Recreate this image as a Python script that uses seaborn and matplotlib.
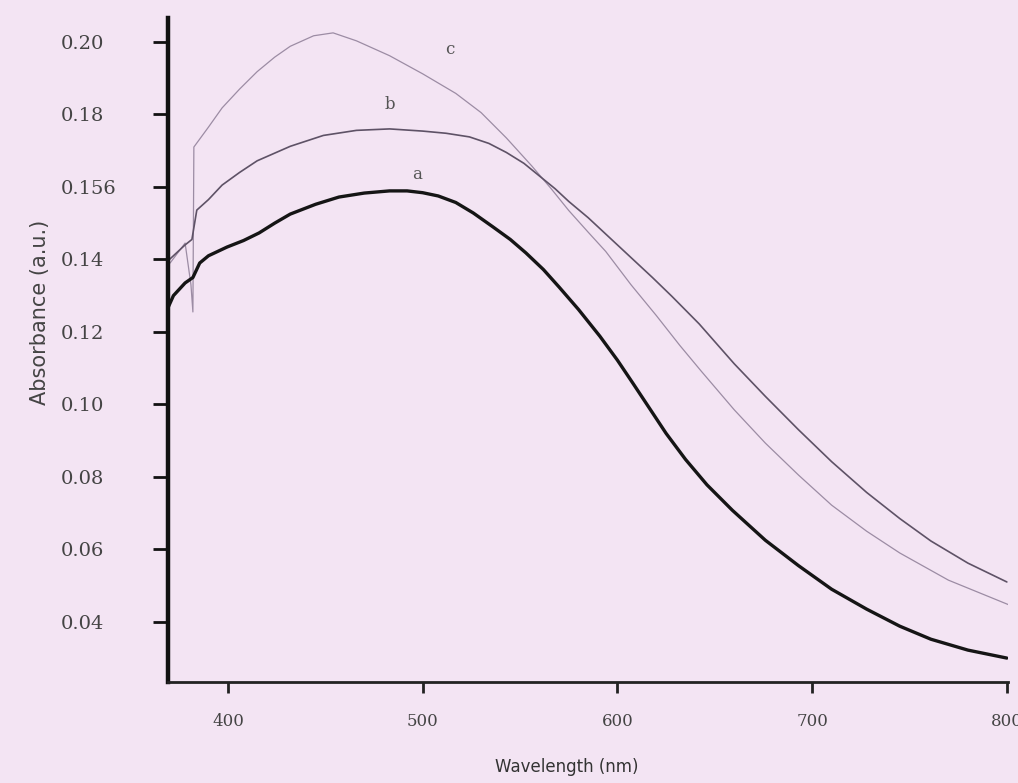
import numpy as np
import pandas as pd
import matplotlib
matplotlib.use("Agg")
import matplotlib.pyplot as plt
import seaborn as sns

# Spectres UV-visible (longueur d'onde en nm, absorbance)
wl_a = [369.5, 372, 378, 382, 385.5, 390, 399.5, 408, 416, 424, 432, 445, 457, 470, 483, 492,
        500, 508, 517, 526, 536, 545, 553, 562, 570, 580, 591, 600, 608, 617, 625, 635, 646,
        659, 676, 693, 710, 728, 745, 761, 780, 800]
abs_a = [0.127, 0.130, 0.1335, 0.135, 0.139, 0.141, 0.1434, 0.1452, 0.1473, 0.150, 0.1525,
         0.1552, 0.1572, 0.1583, 0.1589, 0.1589, 0.1584, 0.1575, 0.1557, 0.1528, 0.149,
         0.1455, 0.1418, 0.1372, 0.1324, 0.1262, 0.1188, 0.1122, 0.1058, 0.0985, 0.092,
         0.0848, 0.0778, 0.0708, 0.0625, 0.0555, 0.049, 0.0435, 0.0388, 0.0352, 0.0322, 0.030]

wl_b = [370, 378, 381.5, 384, 390, 397, 406, 415, 432, 449, 466, 483, 500, 512, 524, 534,
        543, 552, 560, 568, 575, 585, 594, 608, 618, 628, 642, 660, 676, 693, 710, 728, 745,
        761, 780, 800]
abs_b = [0.140, 0.144, 0.1455, 0.1536, 0.1565, 0.1605, 0.164, 0.1672, 0.1712, 0.1742, 0.1756,
         0.176, 0.1754, 0.1748, 0.1738, 0.172, 0.1695, 0.1665, 0.163, 0.1595, 0.156, 0.1515,
         0.147, 0.140, 0.135, 0.1298, 0.1222, 0.1112, 0.1022, 0.093, 0.0842, 0.0757, 0.0685,
         0.0623, 0.0562, 0.051]

wl_c = [370.3, 378, 381, 382, 382.5, 390, 397, 406, 415, 424, 432, 444, 454, 466, 483, 500,
        517, 530, 543, 556, 566, 575, 585, 594, 607, 620, 632, 643, 660, 676, 693, 710, 728,
        745, 770, 801]
abs_c = [0.139, 0.1445, 0.133, 0.1255, 0.171, 0.1765, 0.1818, 0.187, 0.1918, 0.1958, 0.1988,
         0.2017, 0.2025, 0.2003, 0.1962, 0.1912, 0.1858, 0.1805, 0.1735, 0.1658, 0.1595,
         0.1535, 0.1475, 0.1422, 0.133, 0.1245, 0.1163, 0.1092, 0.0985, 0.0893, 0.0805,
         0.0722, 0.065, 0.059, 0.0515, 0.0447]

# Etiquettes des courbes (texte, position)
curve_names = ["a", "b", "c"]
label_wl = [497, 483, 514]
label_abs = [0.1633, 0.1826, 0.1978]

# Graduations
x_ticks = [400, 500, 600, 700, 800]
y_ticks = [0.04, 0.06, 0.08, 0.10, 0.12, 0.14, 0.16, 0.18, 0.20]
y_tick_labels = ["0.04", "0.06", "0.08", "0.10", "0.12", "0.14", "0.156", "0.18", "0.20"]

bg = "#f3e4f3"
sns.set_theme(style="white")
plt.rcParams["font.family"] = ["DejaVu Serif"]

fig = plt.figure(figsize=(10.18, 7.83), dpi=100, facecolor=bg)
ax = fig.add_axes([0.165, 0.129, 0.825, 0.848])
ax.set_facecolor(bg)

df_a = pd.DataFrame({"wl": wl_a, "abs": abs_a})
df_b = pd.DataFrame({"wl": wl_b, "abs": abs_b})
df_c = pd.DataFrame({"wl": wl_c, "abs": abs_c})

# Trois courbes : c (claire), b (grise), a (noire épaisse)
sns.lineplot(data=df_c, x="wl", y="abs", sort=False, estimator=None, color="#9c8ca4", linewidth=0.9, ax=ax)
sns.lineplot(data=df_b, x="wl", y="abs", sort=False, estimator=None, color="#5e5266", linewidth=1.2, ax=ax)
sns.lineplot(data=df_a, x="wl", y="abs", sort=False, estimator=None, color="#151515", linewidth=2.4, ax=ax)

for name, lx, ly in zip(curve_names, label_wl, label_abs):
    ax.text(lx, ly, name, fontsize=12, color="#555555", ha="center", va="center")

ax.set_xlim(369.2, 800.5)
ax.set_ylim(0.0234, 0.2066)
ax.set_xticks(x_ticks)
ax.set_xticklabels([str(t) for t in x_ticks], fontsize=12, color="#444444")
ax.set_yticks(y_ticks)
ax.set_yticklabels(y_tick_labels, fontsize=14, color="#444444", ha="left")

for s in ["top", "right"]:
    ax.spines[s].set_visible(False)
ax.spines["left"].set_linewidth(3.2)
ax.spines["bottom"].set_linewidth(2)
ax.spines["left"].set_color("#111111")
ax.spines["bottom"].set_color("#222222")

ax.tick_params(axis="y", direction="out", length=11, width=2, color="#111111", pad=66, left=True)
ax.tick_params(axis="x", direction="out", length=8, width=2, color="#222222", pad=14, bottom=True)

# Titres des axes
ax.set_xlabel("Wavelength (nm)", fontsize=12, family="DejaVu Sans", color="#333333")
ax.set_ylabel("Absorbance (a.u.)", fontsize=15, family="DejaVu Sans", color="#444444")
ax.xaxis.set_label_coords(0.475, -0.115)
ax.yaxis.set_label_coords(-0.141, 0.556)
ax.grid(False)

fig.savefig("out.png", dpi=100, facecolor=bg)
